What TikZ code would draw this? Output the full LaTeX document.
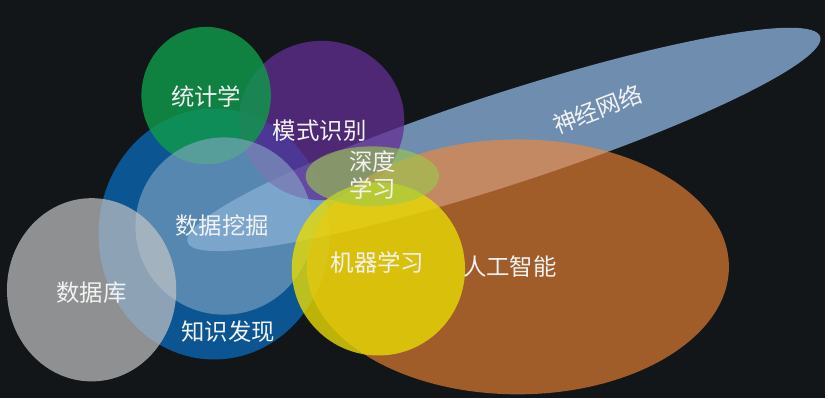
\documentclass[tikz,border=0pt]{standalone}
\usepackage{fontspec}
\setmainfont{Noto Sans CJK SC}
\usepackage[HTML]{xcolor}
\usepackage{tikz}
\usetikzlibrary{positioning}
\definecolor{bgdark}{HTML}{121619}
\definecolor{kdblue}{HTML}{0A5592}
\definecolor{nnblue}{HTML}{97C2F0}
\definecolor{prpurple}{HTML}{632D95}
\definecolor{stgreen}{HTML}{0F9C4B}
\definecolor{dmblue}{HTML}{88A9C6}
\definecolor{dbgray}{HTML}{C5C5C5}
\definecolor{aiorange}{HTML}{F88734}
\definecolor{mlyellow}{HTML}{E8DB04}
\definecolor{dlgreen}{HTML}{9DCB4B}
\definecolor{labelwhite}{HTML}{F2F2F2}

\begin{document}
\begin{tikzpicture}[x=1pt, y=-1pt, lbl/.style={text=labelwhite, font=\fontsize{23.5}{27}\selectfont, inner sep=0pt}]
% background
\fill[bgdark] (0,0) rectangle (828,400);
% centres of the sets
\coordinate (KD) at (215,235);
\coordinate (NN) at (506,140);
\coordinate (PR) at (323,121);
\coordinate (ST) at (207,96);
\coordinate (DM) at (225,227);
\coordinate (DB) at (92,291);
\coordinate (AI) at (520,268);
\coordinate (ML) at (380,270);
\coordinate (DL) at (374,177);
% sets
\fill[kdblue] (KD) ellipse [x radius=116, y radius=126];
\fill[nnblue, fill opacity=0.7, rotate around={18:(NN)}] (NN) ellipse [x radius=334, y radius=46];
\fill[prpurple, fill opacity=0.75] (PR) ellipse [x radius=83, y radius=80];
\fill[stgreen, fill opacity=0.8] (ST) ellipse [x radius=65, y radius=69];
\fill[dmblue, fill opacity=0.6] (DM) circle [radius=89];
\fill[dbgray, fill opacity=0.7] (DB) ellipse [x radius=85, y radius=92];
\fill[aiorange, fill opacity=0.62] (AI) ellipse [x radius=212, y radius=128];
\fill[mlyellow, fill opacity=0.8] (ML) circle [radius=87];
\fill[dlgreen, fill opacity=0.6] (DL) ellipse [x radius=67, y radius=30];
% labels
\node[lbl] (stat) at (207,97) {统计学};
\node[lbl] (patt) at (321,131) {模式识别};
\node[lbl] (deep) at (374,162) {深度};
\node[lbl, below=5pt of deep] (deep2) {学习};
\node[lbl, rotate=21] (neur) at (600,110) {神经网络};
\node[lbl] (mine) at (223,226) {数据挖掘};
\node[lbl] (mach) at (379,264) {机器学习};
\node[lbl] (arti) at (512,268) {人工智能};
\node[lbl] (base) at (92,294) {数据库};
\node[lbl] (know) at (229,333) {知识发现};
\end{tikzpicture}
\end{document}
